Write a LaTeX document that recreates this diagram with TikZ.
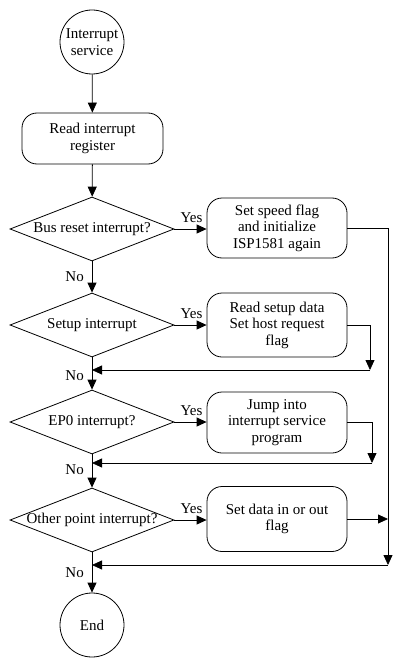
\documentclass[tikz,border=0pt]{standalone}
\usepackage{fontspec}
\setmainfont{Liberation Serif}
\usetikzlibrary{shapes.geometric,arrows.meta}
\begin{document}
\begin{tikzpicture}[x=1pt,y=1pt,
  every node/.style={font=\fontsize{15}{16.5}\selectfont},
  line/.style={draw, line width=0.8pt},
  arr/.style={line, -{Triangle[length=10pt,width=9pt]}},
  term/.style={draw, circle, line width=0.8pt, minimum size=64pt, inner sep=0pt, align=center},
  proc/.style={draw, rectangle, rounded corners=15pt, line width=0.8pt, minimum width=140pt, inner sep=0pt, align=center},
  dec/.style={draw, diamond, line width=0.8pt, minimum width=164pt, minimum height=64pt, inner sep=0pt},
  lbl/.style={inner sep=0pt}
]
\useasboundingbox (0,0) rectangle (393,-658);

% main column
\node[term] (s) at (92,-42) {Interrupt\\service};
\node[proc, minimum width=141pt, minimum height=51pt] (r1) at (92.5,-138.5) {Read interrupt\\register};

\node[dec] (d1) at (92,-229) {};
\node[lbl] (t1) at (d1) {Bus reset interrupt?};
\node[dec] (d2) at (92,-325) {};
\node[lbl] (t2) at (d2) {Setup interrupt};
\node[dec] (d3) at (92,-422) {};
\node[lbl] (t3) at (d3) {EP0 interrupt?};
\node[dec] (d4) at (92,-520) {};
\node[lbl] (t4) at (d4) {Other point interrupt?};

\node[term] (e) at (92,-625) {End};

% right column
\node[proc, minimum height=60pt] (b1) at (277,-228) {Set speed flag\\and initialize\\ISP1581 again};
\node[proc, minimum height=64pt] (b2) at (277,-325) {Read setup data\\Set host request\\flag};
\node[proc, minimum height=61pt] (b3) at (277,-422.5) {Jump into\\interrupt service\\program};
\node[proc, minimum height=65pt] (b4) at (277,-519) {Set data in or out\\flag};

% coordinates for return lines
\coordinate (k1) at (388,-565);
\coordinate (m1) at (92,-565);
\coordinate (k2) at (370,-370);
\coordinate (m2) at (92,-370);
\coordinate (k3) at (372,-463);
\coordinate (m3) at (92,-463);

% main flow
\draw[arr] (s) -- (r1);
\draw[arr] (r1) -- (d1);
\draw[arr] (d1.south) -- (d2.north);
\draw[arr] (d2.south) -- (d3.north);
\draw[arr] (d3.south) -- (d4.north);
\draw[arr] (d4.south) -- (e.north);

% yes branches
\draw[arr] (d1.east) -- (d1.east -| b1.west);
\draw[arr] (d2.east) -- (d2.east -| b2.west);
\draw[arr] (d3.east) -- (d3.east -| b3.west);
\draw[arr] (d4.east) -- (d4.east -| b4.west);

% return lines
\draw[arr] (b1.east) -| (k1);
\draw[arr] (k1) -- (m1);
\draw[arr] (b4.east) -- (b4.east -| k1);
\draw[arr] (b2.east) -| (k2);
\draw[arr] (k2) -- (m2);
\draw[arr] (b3.east) -| (k3);
\draw[arr] (k3) -- (m3);

% labels
\node[lbl, anchor=base west] (y1) at ([xshift=6pt,yshift=7pt]d1.east) {Yes};
\node[lbl, anchor=base west] (y2) at ([xshift=6pt,yshift=7pt]d2.east) {Yes};
\node[lbl, anchor=base west] (y3) at ([xshift=6pt,yshift=7pt]d3.east) {Yes};
\node[lbl, anchor=base west] (y4) at ([xshift=6pt,yshift=7pt]d4.east) {Yes};

\node[lbl, anchor=base east] (n1) at (84,-281) {No};
\node[lbl, anchor=base east] (n2) at (84,-380) {No};
\node[lbl, anchor=base east] (n3) at (84,-474) {No};
\node[lbl, anchor=base east] (n4) at (84,-577) {No};
\end{tikzpicture}
\end{document}
